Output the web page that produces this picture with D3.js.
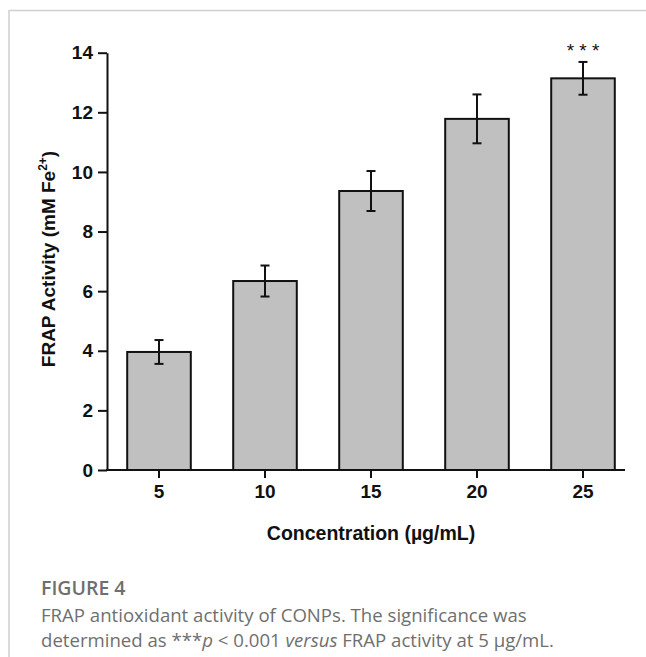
<!DOCTYPE html>
<html>
<head>
<meta charset="utf-8">
<script src="https://cdn.jsdelivr.net/npm/d3@7"></script>
<style>
  html, body { margin: 0; padding: 0; background: #fff; }
  svg { display: block; }
</style>
</head>
<body>
<svg id="chart"></svg>
<script>
// data
var concentrations = ["5", "10", "15", "20", "25"];
var frapMeans = [3.96, 6.34, 9.36, 11.78, 13.14];
var frapErrors = [0.40, 0.52, 0.67, 0.82, 0.55];
var yTicks = [0, 2, 4, 6, 8, 10, 12, 14];
var significance = ["", "", "", "", "* * *"];

var W = 646, H = 657;
var axisFont = "'Liberation Sans', Arial, sans-serif";

var svg = d3.select("#chart")
    .attr("width", W)
    .attr("height", H)
    .style("background-color", "white");

// card borders (top + left)
svg.append("line")
    .attr("x1", 9).attr("x2", W).attr("y1", 10.5).attr("y2", 10.5)
    .attr("stroke", "#cfcfcf").attr("stroke-width", 1.5);
svg.append("line")
    .attr("x1", 9).attr("x2", 9).attr("y1", 10).attr("y2", H)
    .attr("stroke", "#cfcfcf").attr("stroke-width", 1.5);

var y = d3.scaleLinear()
    .domain([0, 14])
    .range([470, 52.7]);

var x = d3.scaleBand()
    .domain(concentrations)
    .range([106, 636])
    .paddingInner(0.4)
    .paddingOuter(0.2);

var xAxisLeft = 107, xAxisRight = 625;

// bars
var bars = svg.selectAll(".bar")
    .data(concentrations).enter()
    .append("g").attr("class", "bar");

bars.append("rect")
    .attr("x", function(d) { return x(d) })
    .attr("width", x.bandwidth())
    .attr("y", function(d, i) { return y(frapMeans[i]) })
    .attr("height", function(d, i) { return y(0) - y(frapMeans[i]) })
    .attr("fill", "#c0c0c0")
    .attr("stroke", "#111")
    .attr("stroke-width", 2);

// error bars
var cx = function(d) { return x(d) + x.bandwidth() / 2 };
bars.append("line")
    .attr("x1", cx).attr("x2", cx)
    .attr("y1", function(d, i) { return y(frapMeans[i] + frapErrors[i]) })
    .attr("y2", function(d, i) { return y(frapMeans[i] - frapErrors[i]) })
    .attr("stroke", "#111").attr("stroke-width", 2);
[1, -1].forEach(function(sign) {
  bars.append("line")
      .attr("x1", function(d) { return cx(d) - 4.5 })
      .attr("x2", function(d) { return cx(d) + 4.5 })
      .attr("y1", function(d, i) { return y(frapMeans[i] + sign * frapErrors[i]) })
      .attr("y2", function(d, i) { return y(frapMeans[i] + sign * frapErrors[i]) })
      .attr("stroke", "#111").attr("stroke-width", 2);
});

// significance stars
bars.append("text")
    .attr("x", cx)
    .attr("y", function(d, i) { return y(frapMeans[i] + frapErrors[i]) - 5 })
    .attr("text-anchor", "middle")
    .style("font-family", axisFont)
    .style("font-size", "19px")
    .style("fill", "#111")
    .text(function(d, i) { return significance[i] });

// axes
var leftAxis = d3.axisLeft(y).tickValues(yTicks).tickSize(9).tickPadding(5).tickSizeOuter(0);
var gy = svg.append("g")
    .attr("transform", "translate(" + xAxisLeft + ",0)")
    .call(leftAxis);

var bottomAxis = d3.axisBottom(x).tickSize(8).tickPadding(7);
var gx = svg.append("g")
    .attr("transform", "translate(0," + y(0) + ")")
    .call(bottomAxis);
gx.select(".domain").remove();
gx.append("line")
    .attr("x1", xAxisLeft - 1).attr("x2", xAxisRight)
    .attr("stroke", "#111").attr("stroke-width", 2);

[gy, gx].forEach(function(g) {
  g.selectAll("path, line").attr("stroke", "#111").attr("stroke-width", 2);
  g.selectAll("text")
      .style("font-family", axisFont)
      .style("font-weight", "bold")
      .style("font-size", "19px")
      .attr("fill", "#111");
});

// axis titles
svg.append("text")
    .attr("x", 371)
    .attr("y", 540)
    .attr("text-anchor", "middle")
    .style("font-family", axisFont)
    .style("font-weight", "bold")
    .style("font-size", "19.5px")
    .attr("fill", "#111")
    .text("Concentration (µg/mL)");

var yl = svg.append("text")
    .attr("transform", "translate(55,259) rotate(-90)")
    .attr("text-anchor", "middle")
    .style("font-family", axisFont)
    .style("font-weight", "bold")
    .style("font-size", "19px")
    .attr("fill", "#111");
yl.append("tspan").text("FRAP Activity (mM Fe");
yl.append("tspan").attr("dy", -8).style("font-size", "12px").text("2+");
yl.append("tspan").attr("dy", 8).text(")");

// caption
var capFont = "'Open Sans', 'Noto Sans', sans-serif";
svg.append("text")
    .attr("x", 41).attr("y", 595)
    .style("font-family", capFont)
    .style("font-weight", 600)
    .style("font-size", "19.5px")
    .attr("fill", "#6f6f6f")
    .text("FIGURE 4");

svg.append("text")
    .attr("x", 41).attr("y", 622)
    .style("font-family", capFont)
    .style("font-size", "18.6px")
    .attr("fill", "#6f6f6f")
    .text("FRAP antioxidant activity of CONPs. The significance was");

var cap2 = svg.append("text")
    .attr("x", 41).attr("y", 647)
    .style("font-family", capFont)
    .style("font-size", "18.6px")
    .attr("fill", "#6f6f6f");
cap2.append("tspan").text("determined as ***");
cap2.append("tspan").style("font-style", "italic").text("p");
cap2.append("tspan").text(" < 0.001 ");
cap2.append("tspan").style("font-style", "italic").text("versus");
cap2.append("tspan").text(" FRAP activity at 5 µg/mL.");
</script>
</body>
</html>
